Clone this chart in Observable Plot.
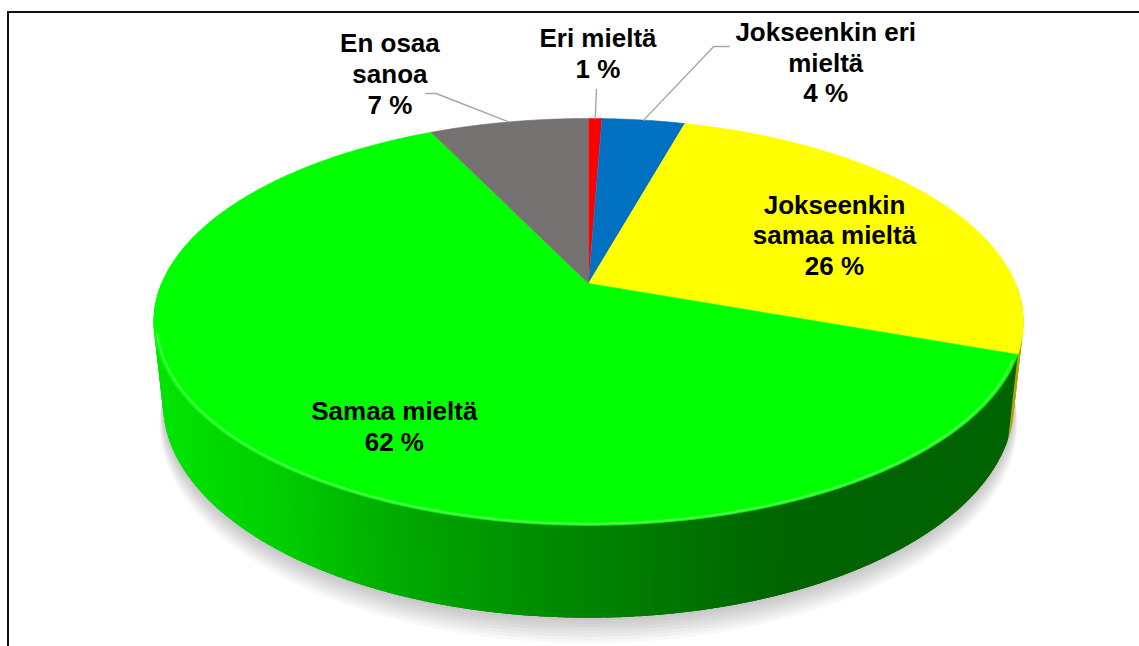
<!DOCTYPE html>
<html>
<head>
<meta charset="utf-8">
<script src="https://cdn.jsdelivr.net/npm/d3@7"></script>
<script src="https://cdn.jsdelivr.net/npm/@observablehq/plot@0.6"></script>
<style>
  html, body { margin: 0; padding: 0; background: #fff; }
  #wrap { position: relative; width: 1139px; height: 646px; overflow: hidden; }
  #frame { position: absolute; left: 7px; top: 11px; right: -4px; bottom: -4px;
           border-left: 2px solid #111; border-top: 2px solid #111; }
  #chart { position: absolute; left: 0; top: 0; }
</style>
</head>
<body>
<div id="wrap">
  <div id="frame"></div>
  <div id="chart"></div>
</div>
<script>
// ---------- data ----------
const categories = ["Eri mieltä", "Jokseenkin eri mieltä", "Jokseenkin samaa mieltä", "Samaa mieltä", "En osaa sanoa"];
const values = [0.6, 3.7, 26.2, 62.4, 7.1];
const labelLines = ["Eri mieltä", "Jokseenkin eri\nmieltä", "Jokseenkin\nsamaa mieltä", "Samaa mieltä", "En osaa\nsanoa"];
const topColors = ["#ff0000", "#0070c0", "#ffff00", "#00ff00", "#767171"];
// side shading: colour ramps from the left of the pie to the right
const sideRamps = [
  ["#e00000", "#900000"],
  ["#0068b0", "#003e70"],
  ["#e6de00", "#d8d000", "#c8c000", "#b0a600"],
  ["#00e400", "#00cc00", "#00a800", "#008e00", "#007a00", "#006600", "#006200", "#006400"],
  ["#6a6666", "#3e3b3b"]
];

// ---------- layout (3D projection of the pie) ----------
const W = 1139, H = 646, CX = 588, CY = 283, R = 427;
const SIN_T = 0.4595, COS_T = 0.888, K = 0.189, S_OVER_D = 0.0978, DEPTH = 0.216;

function project(theta, r, z) {
  const u = r * Math.sin(theta), v = r * Math.cos(theta);
  const den = 1 + K * v - z * S_OVER_D;
  return [u / den, (v * SIN_T + z * COS_T) / den];
}

const total = d3.sum(values);
let acc = 0;
const slices = values.map((v, i) => {
  const a0 = acc / total * 2 * Math.PI;
  acc += v;
  const a1 = acc / total * 2 * Math.PI;
  return {i, name: categories[i], value: v, a0, a1, mid: (a0 + a1) / 2};
});

function arc(a0, a1, r, z) {
  const n = Math.max(2, Math.ceil((a1 - a0) / (Math.PI / 360)));
  const pts = [];
  for (let k = 0; k <= n; k++) pts.push(project(a0 + (a1 - a0) * k / n, r, z));
  return pts;
}

// side walls (front half only), cut into overlapping narrow strips for the shading
const xMin = project(3 * Math.PI / 2, 1, 0)[0], xMax = project(Math.PI / 2, 1, 0)[0];
const wallPts = [];
const step = Math.PI / 240;
slices.forEach(s => {
  const lo = Math.max(s.a0, Math.PI / 2), hi = Math.min(s.a1, 3 * Math.PI / 2);
  if (hi <= lo) return;
  const ramp = d3.piecewise(d3.interpolateRgb, sideRamps[s.i]);
  const n = Math.ceil((hi - lo) / step);
  const w = (hi - lo) / n;
  d3.range(n).forEach(k => {
    const t0 = lo + w * k, t1 = Math.min(hi, lo + w * (k + 2.2));
    const pts = arc(t0, t1, 1, 0).concat(arc(t0, t1, 1, -DEPTH).reverse());
    const xm = project(t0 + w / 2, 1, 0)[0];
    const c = d3.rgb(ramp(Math.max(0, Math.min(1, (xm - xMin) / (xMax - xMin))))).formatHex();
    const id = "wall" + s.i + "-" + k;
    pts.forEach(([x, y]) => wallPts.push({x, y, id, fill: c}));
  });
});

// soft shadow under the pie
const shadowPts = [];
d3.range(8).forEach(j => {
  const dz = 0.006 + j * 0.0065;
  const poly = arc(Math.PI * 0.52, Math.PI * 1.48, 1.0 + dz * 0.25, -DEPTH - dz);
  poly.forEach(([x, y]) => shadowPts.push({x, y, id: "sh" + j, op: 0.028}));
});

// top faces
const topPts = [];
slices.forEach(s => {
  const poly = [[0, 0]].concat(arc(s.a0, s.a1, 1, 0));
  poly.forEach(([x, y]) => topPts.push({x, y, id: "top" + s.i, fill: topColors[s.i]}));
});

// bevel highlight on the front rim
const rimPts = arc(Math.PI * 0.62, Math.PI * 1.42, 0.994, 0).map(([x, y]) => ({x, y}));

// label placement: factors applied to the projected mid-rim point of each slice
const labelLayout = [
  {label: [1.40, 1.397], leader: [[1, 1], [1.176, 1.176]]},
  {label: [4.30, 1.358], leader: [[1, 1], [2.27, 1.451], [2.55, 1.451]]},
  {label: [0.705, 0.59], leader: null},
  {label: [0.583, 0.842], leader: null},
  {label: [2.49, 1.30], leader: [[1, 1], [1.91, 1.176], [2.04, 1.176]]}
];

const labels = [];
const leaders = [];
slices.forEach(s => {
  const rim = project(s.mid, 1, 0);
  const L = labelLayout[s.i];
  labels.push({
    x: rim[0] * L.label[0], y: rim[1] * L.label[1],
    text: labelLines[s.i] + "\n" + Math.round(s.value) + " %"
  });
  if (L.leader) L.leader.forEach(([fx, fy]) => leaders.push({x: rim[0] * fx, y: rim[1] * fy, id: "lead" + s.i}));
});

const chart = Plot.plot({
  width: W, height: H,
  margin: 0,
  x: {domain: [-CX / R, (W - CX) / R], axis: null},
  y: {domain: [-(H - CY) / R, CY / R], axis: null},
  style: {background: "transparent", overflow: "visible"},
  marks: [
    Plot.line(shadowPts, {x: "x", y: "y", z: "id", fill: "#000", fillOpacity: "op", stroke: null, curve: "linear"}),
    Plot.line(wallPts, {x: "x", y: "y", z: "id", fill: "fill", stroke: null, curve: "linear"}),
    Plot.line(topPts, {x: "x", y: "y", z: "id", fill: "fill", stroke: "fill", strokeWidth: 0.6, curve: "linear"}),
    Plot.line(rimPts, {x: "x", y: "y", stroke: "#9dff9d", strokeWidth: 2.2, strokeOpacity: 0.45}),
    Plot.line(leaders, {x: "x", y: "y", z: "id", stroke: "#a6a6a6", strokeWidth: 1.4}),
    Plot.text(labels, {
      x: "x", y: "y", text: "text",
      fontSize: 26, fontWeight: "bold",
      fontFamily: "'Liberation Sans', Arial, sans-serif",
      lineHeight: 1.19, textAnchor: "middle", lineAnchor: "middle",
      fill: "#000"
    })
  ]
});

document.getElementById("chart").appendChild(chart);
</script>
</body>
</html>
